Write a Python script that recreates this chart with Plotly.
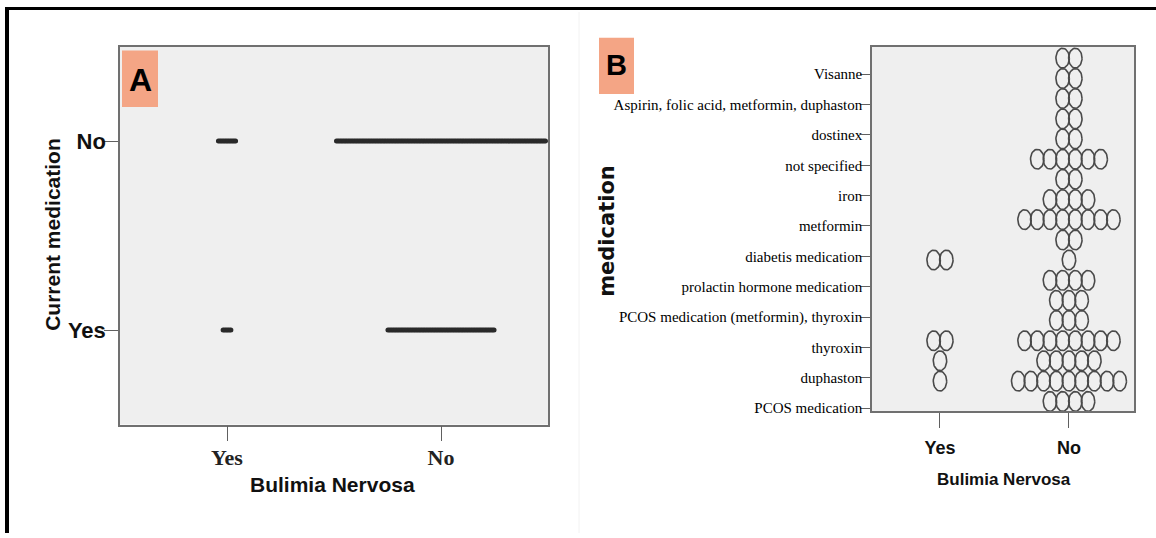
import numpy as np
import plotly.graph_objects as go

# ---------------- data ----------------
bn_groups = ["Yes", "No"]                       # Bulimia Nervosa (x categories)
cur_med_levels = ["Yes", "No"]                  # Current medication (y categories, panel A)

# panel A: number of cases in each (BN, current medication) cell
a_yes_counts = [6, 69]     # current medication = Yes, for BN Yes / No
a_no_counts = [12, 135]    # current medication = No,  for BN Yes / No

# panel B: medication categories (bottom -> top)
med_labels = ["PCOS medication", "duphaston", "thyroxin",
              "PCOS medication (metformin), thyroxin", "prolactin hormone medication",
              "diabetis medication", "metformin", "iron", "not specified",
              "dostinex", "Aspirin, folic acid, metformin, duphaston", "Visanne"]

# panel B: stacked dot rows (position on medication axis) and dots per row
row_pos = [0.22, 0.89, 1.56, 2.22, 2.89, 3.55, 4.21, 4.88, 5.54, 6.21,
           6.87, 7.54, 8.20, 8.87, 9.53, 10.20, 10.86, 11.53]
b_no_counts = [4, 9, 5, 8, 3, 3, 4, 1, 2, 8, 4, 2, 6, 2, 2, 2, 2, 2]
b_yes_counts = [0, 1, 1, 2, 0, 0, 0, 2, 0, 0, 0, 0, 0, 0, 0, 0, 0, 0]

W, H = 1156, 538
def px(x): return x / W
def py(y): return 1 - y / H

fig = go.Figure()

# ---------------- panel A ----------------
dxA = 0.00729
def row_x(center, n, dx):
    return [center + (j - (n - 1) / 2) * dx for j in range(n)]

ax, ay = [], []
for gi, g in enumerate(bn_groups):
    for lvl, counts in (("Yes", a_yes_counts), ("No", a_no_counts)):
        xs = row_x(gi, counts[gi], dxA)
        ax += xs
        ay += [cur_med_levels.index(lvl)] * len(xs)
fig.add_trace(go.Scatter(x=ax, y=ay, mode="markers", xaxis="x", yaxis="y",
                         marker=dict(size=5, color="#2a2a2a", line=dict(width=0)),
                         showlegend=False, hoverinfo="skip"))

# ---------------- panel B ----------------
dxB = 0.0984
rx, ry = 0.052, 0.325
t = np.linspace(0, 2 * np.pi, 41)
for gi, counts in ((0, b_yes_counts), (1, b_no_counts)):
    ex, ey = [], []
    for k, n in enumerate(counts):
        for cx in row_x(gi, n, dxB):
            ex += list(cx + rx * np.cos(t)) + [None]
            ey += list(row_pos[k] + ry * np.sin(t)) + [None]
    fig.add_trace(go.Scatter(x=ex, y=ey, mode="lines", xaxis="x2", yaxis="y2",
                             line=dict(color="#4a4a4a", width=1.6),
                             showlegend=False, hoverinfo="skip"))

frame = dict(showline=True, linecolor="#707070", linewidth=1.5, mirror=True,
             showgrid=False, zeroline=False, ticks="outside", tickcolor="#606060",
             tickwidth=1.2)
sans = "Liberation Sans, Arial"

fig.update_layout(
    width=W, height=H, margin=dict(l=0, r=0, t=0, b=0),
    paper_bgcolor="white", plot_bgcolor="#efefef",
    xaxis=dict(domain=[px(120), px(548)], range=[-0.5, 1.5], tickmode="array",
               tickvals=[0, 1], ticktext=["<b>Yes</b>", "<b>No</b>"], ticklen=15,
               ticklabelstandoff=-3,
               tickfont=dict(family="Liberation Serif, Times New Roman", size=22, color="#222"),
               anchor="y", **frame),
    yaxis=dict(domain=[py(428.5), py(47)], range=[-0.5, 1.5], tickmode="array",
               tickvals=[0, 1], ticktext=["<b>Yes</b>", "<b>No</b>"], ticklen=14,
               ticklabelstandoff=-6,
               tickfont=dict(family=sans, size=22, color="#111"),
               anchor="x", **frame),
    xaxis2=dict(domain=[px(872), px(1134)], range=[-0.527, 1.504], tickmode="array",
                tickvals=[0, 1], ticktext=["<b>Yes</b>", "<b>No</b>"], ticklen=15,
                ticklabelstandoff=5,
                tickfont=dict(family=sans, size=18, color="#111"),
                anchor="y2", **frame),
    yaxis2=dict(domain=[py(415), py(47)], range=[-0.1, 11.91], tickmode="array",
                tickvals=list(range(len(med_labels))), ticktext=med_labels, ticklen=10,
                ticklabelstandoff=-5,
                tickfont=dict(family="Liberation Serif, Times New Roman", size=15, color="#000"),
                anchor="x2", **frame),
)

# page frame and panel decorations
shapes = [
    dict(type="line", xref="paper", yref="paper", x0=px(5), x1=1, y0=py(8.5), y1=py(8.5),
         line=dict(color="black", width=3)),
    dict(type="line", xref="paper", yref="paper", x0=px(7), x1=px(7), y0=py(7), y1=0,
         line=dict(color="black", width=4)),
    dict(type="line", xref="paper", yref="paper", x0=px(579), x1=px(579), y0=py(12), y1=0,
         line=dict(color="#f2f2f2", width=1)),
    dict(type="rect", xref="paper", yref="paper", x0=px(122), x1=px(158), y0=py(108), y1=py(51),
         fillcolor="#f4a585", line=dict(width=0), layer="above"),
    dict(type="rect", xref="paper", yref="paper", x0=px(599), x1=px(634), y0=py(95), y1=py(38),
         fillcolor="#f4a585", line=dict(width=0), layer="above"),
]
fig.update_layout(shapes=shapes)

ann = [
    dict(text="<b>A</b>", x=px(140), y=py(81), font=dict(family=sans, size=32, color="black")),
    dict(text="<b>B</b>", x=px(616.5), y=py(66), font=dict(family=sans, size=29, color="black")),
    dict(text="<b>Current medication</b>", x=px(53), y=py(237), textangle=-90,
         font=dict(family=sans, size=21, color="#111")),
    dict(text="<b>Bulimia Nervosa</b>", x=px(333), y=py(489),
         font=dict(family=sans, size=21, color="#111")),
    dict(text="<b>medication</b>", x=px(607), y=py(233), textangle=-90,
         font=dict(family="DejaVu Sans, Liberation Sans", size=21, color="#111")),
    dict(text="<b>Bulimia Nervosa</b>", x=px(1004), y=py(484),
         font=dict(family=sans, size=17, color="#111")),
]
for a in ann:
    a.update(xref="paper", yref="paper", showarrow=False, xanchor="center", yanchor="middle")
fig.update_layout(annotations=ann)

fig.write_html("out.html", config={"displayModeBar": False},
               post_script="document.body.style.margin='0';document.body.style.overflow='hidden';")
